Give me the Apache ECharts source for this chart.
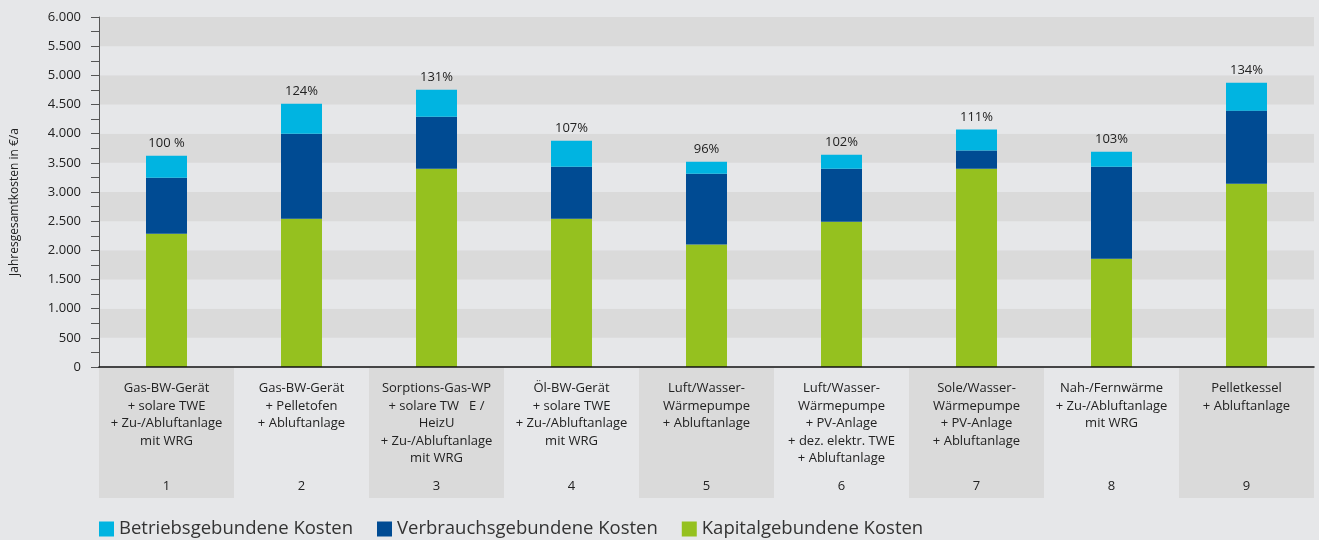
<!DOCTYPE html>
<html lang="de">
<head>
  <meta charset="UTF-8">
  <title>Jahresgesamtkosten</title>
  <style>
    html, body { margin:0; padding:0; background:#e6e7e9; }
    #chart { width:1319px; height:540px; }
  </style>
</head>
<body>
  <div id="chart"></div>
  <script src="https://cdn.jsdelivr.net/npm/echarts@6/dist/echarts.min.js"></script>
  <script>
    // Kategorien (Beschriftungszeilen) und Nummern
    var categories = [
      ['Gas-BW-Gerät', '+ solare TWE', '+ Zu-/Abluftanlage', 'mit WRG'],
      ['Gas-BW-Gerät', '+ Pelletofen', '+ Abluftanlage'],
      ['Sorptions-Gas-WP', '+ solare TW   E /', 'HeizU', '+ Zu-/Abluftanlage', 'mit WRG'],
      ['Öl-BW-Gerät', '+ solare TWE', '+ Zu-/Abluftanlage', 'mit WRG'],
      ['Luft/Wasser-', 'Wärmepumpe', '+ Abluftanlage'],
      ['Luft/Wasser-', 'Wärmepumpe', '+ PV-Anlage', '+ dez. elektr. TWE', '+ Abluftanlage'],
      ['Sole/Wasser-', 'Wärmepumpe', '+ PV-Anlage', '+ Abluftanlage'],
      ['Nah-/Fernwärme', '+ Zu-/Abluftanlage', 'mit WRG'],
      ['Pelletkessel', '+ Abluftanlage']
    ]
    var numbers = ['1', '2', '3', '4', '5', '6', '7', '8', '9']

    // Werte in €/a
    var kapital   = [2285, 2540, 3400, 2540, 2100, 2490, 3400, 1855, 3140]
    var verbrauch = [960, 1460, 890, 895, 1215, 910, 310, 1580, 1255]
    var betrieb   = [377, 515, 465, 445, 205, 240, 360, 255, 480]
    var percents  = ['100 %', '124%', '131%', '107%', '96%', '102%', '111%', '103%', '134%']

    var yTicks = [0, 500, 1000, 1500, 2000, 2500, 3000, 3500, 4000, 4500, 5000, 5500, 6000]

    var font = "'Open Sans', 'Noto Sans', sans-serif"

    var labelText = numbers.map(function (n, i) {
      var lines = categories[i].slice()
      while (lines.length < 5) lines.push(' ')
      return lines.map(function (l) { return '{t|' + l + '}' }).join('\n') + '\n{n|' + n + '}'
    })

    var myChart = echarts.init(document.getElementById('chart'))
    var option = {
      backgroundColor: '#e6e7e9',
      animation: false,
      textStyle: { fontFamily: font },
      legend: {
        left: 99,
        top: 517,
        padding: 0,
        itemWidth: 15,
        itemHeight: 15,
        itemGap: 24,
        icon: 'rect',
        textStyle: { fontSize: 18.5, lineHeight: 24, color: '#333' },
        data: ['Betriebsgebundene Kosten', 'Verbrauchsgebundene Kosten', 'Kapitalgebundene Kosten']
      },
      grid: [
        { left: 99, right: 5, top: 17, bottom: 173 },
        { left: 99, right: 5, top: 368, height: 130 }
      ],
      xAxis: [
        {
          type: 'category',
          gridIndex: 0,
          z: 3,
          data: labelText,
          axisLine: { lineStyle: { color: '#111', width: 1.5 } },
          axisTick: { show: false },
          axisLabel: {
            interval: 0,
            margin: 13,
            color: '#222',
            rich: {
              t: { fontSize: 13, lineHeight: 17.5, color: '#222', fontFamily: font },
              n: { fontSize: 13, lineHeight: 38, color: '#222', fontFamily: font }
            }
          }
        },
        {
          type: 'category',
          gridIndex: 1,
          z: 0,
          data: numbers,
          axisLine: { show: false },
          axisTick: { show: false },
          axisLabel: { show: false },
          splitArea: { show: true, interval: 0, areaStyle: { color: ['#dadada', '#e6e7e9'] } }
        }
      ],
      yAxis: [
        {
          type: 'value',
          gridIndex: 0,
          min: yTicks[0],
          max: yTicks[yTicks.length - 1],
          interval: 500,
          name: 'Jahresgesamtkosten in €/a',
          nameLocation: 'middle',
          nameGap: 78,
          nameTextStyle: { fontSize: 12, color: '#222', padding: [0, 20, 0, 0] },
          axisLine: { show: true, lineStyle: { color: '#555', width: 1 } },
          axisTick: { show: true, length: 8, lineStyle: { color: '#555' } },
          minorTick: { show: true, splitNumber: 2, length: 8, lineStyle: { color: '#555' } },
          axisLabel: {
            margin: 18,
            fontSize: 13,
            color: '#222',
            formatter: function (v) {
              return v >= 1000 ? Math.floor(v / 1000) + '.' + String(v % 1000).padStart(3, '0') : String(v)
            }
          },
          splitLine: { show: false },
          splitArea: { show: true, areaStyle: { color: ['#e6e7e9', '#dadada'] } }
        },
        { type: 'value', gridIndex: 1, show: false }
      ],
      series: [
        {
          name: 'Kapitalgebundene Kosten',
          type: 'bar',
          stack: 'kosten',
          barWidth: 41,
          itemStyle: { color: '#95c11f' },
          data: kapital
        },
        {
          name: 'Verbrauchsgebundene Kosten',
          type: 'bar',
          stack: 'kosten',
          barWidth: 41,
          itemStyle: { color: '#004b93' },
          data: verbrauch
        },
        {
          name: 'Betriebsgebundene Kosten',
          type: 'bar',
          stack: 'kosten',
          barWidth: 41,
          itemStyle: { color: '#00b4e1' },
          label: {
            show: true,
            position: 'top',
            distance: 6,
            fontSize: 13,
            color: '#222',
            formatter: function (p) { return percents[p.dataIndex] }
          },
          data: betrieb
        }
      ]
    }
    myChart.setOption(option)
  </script>
</body>
</html>
